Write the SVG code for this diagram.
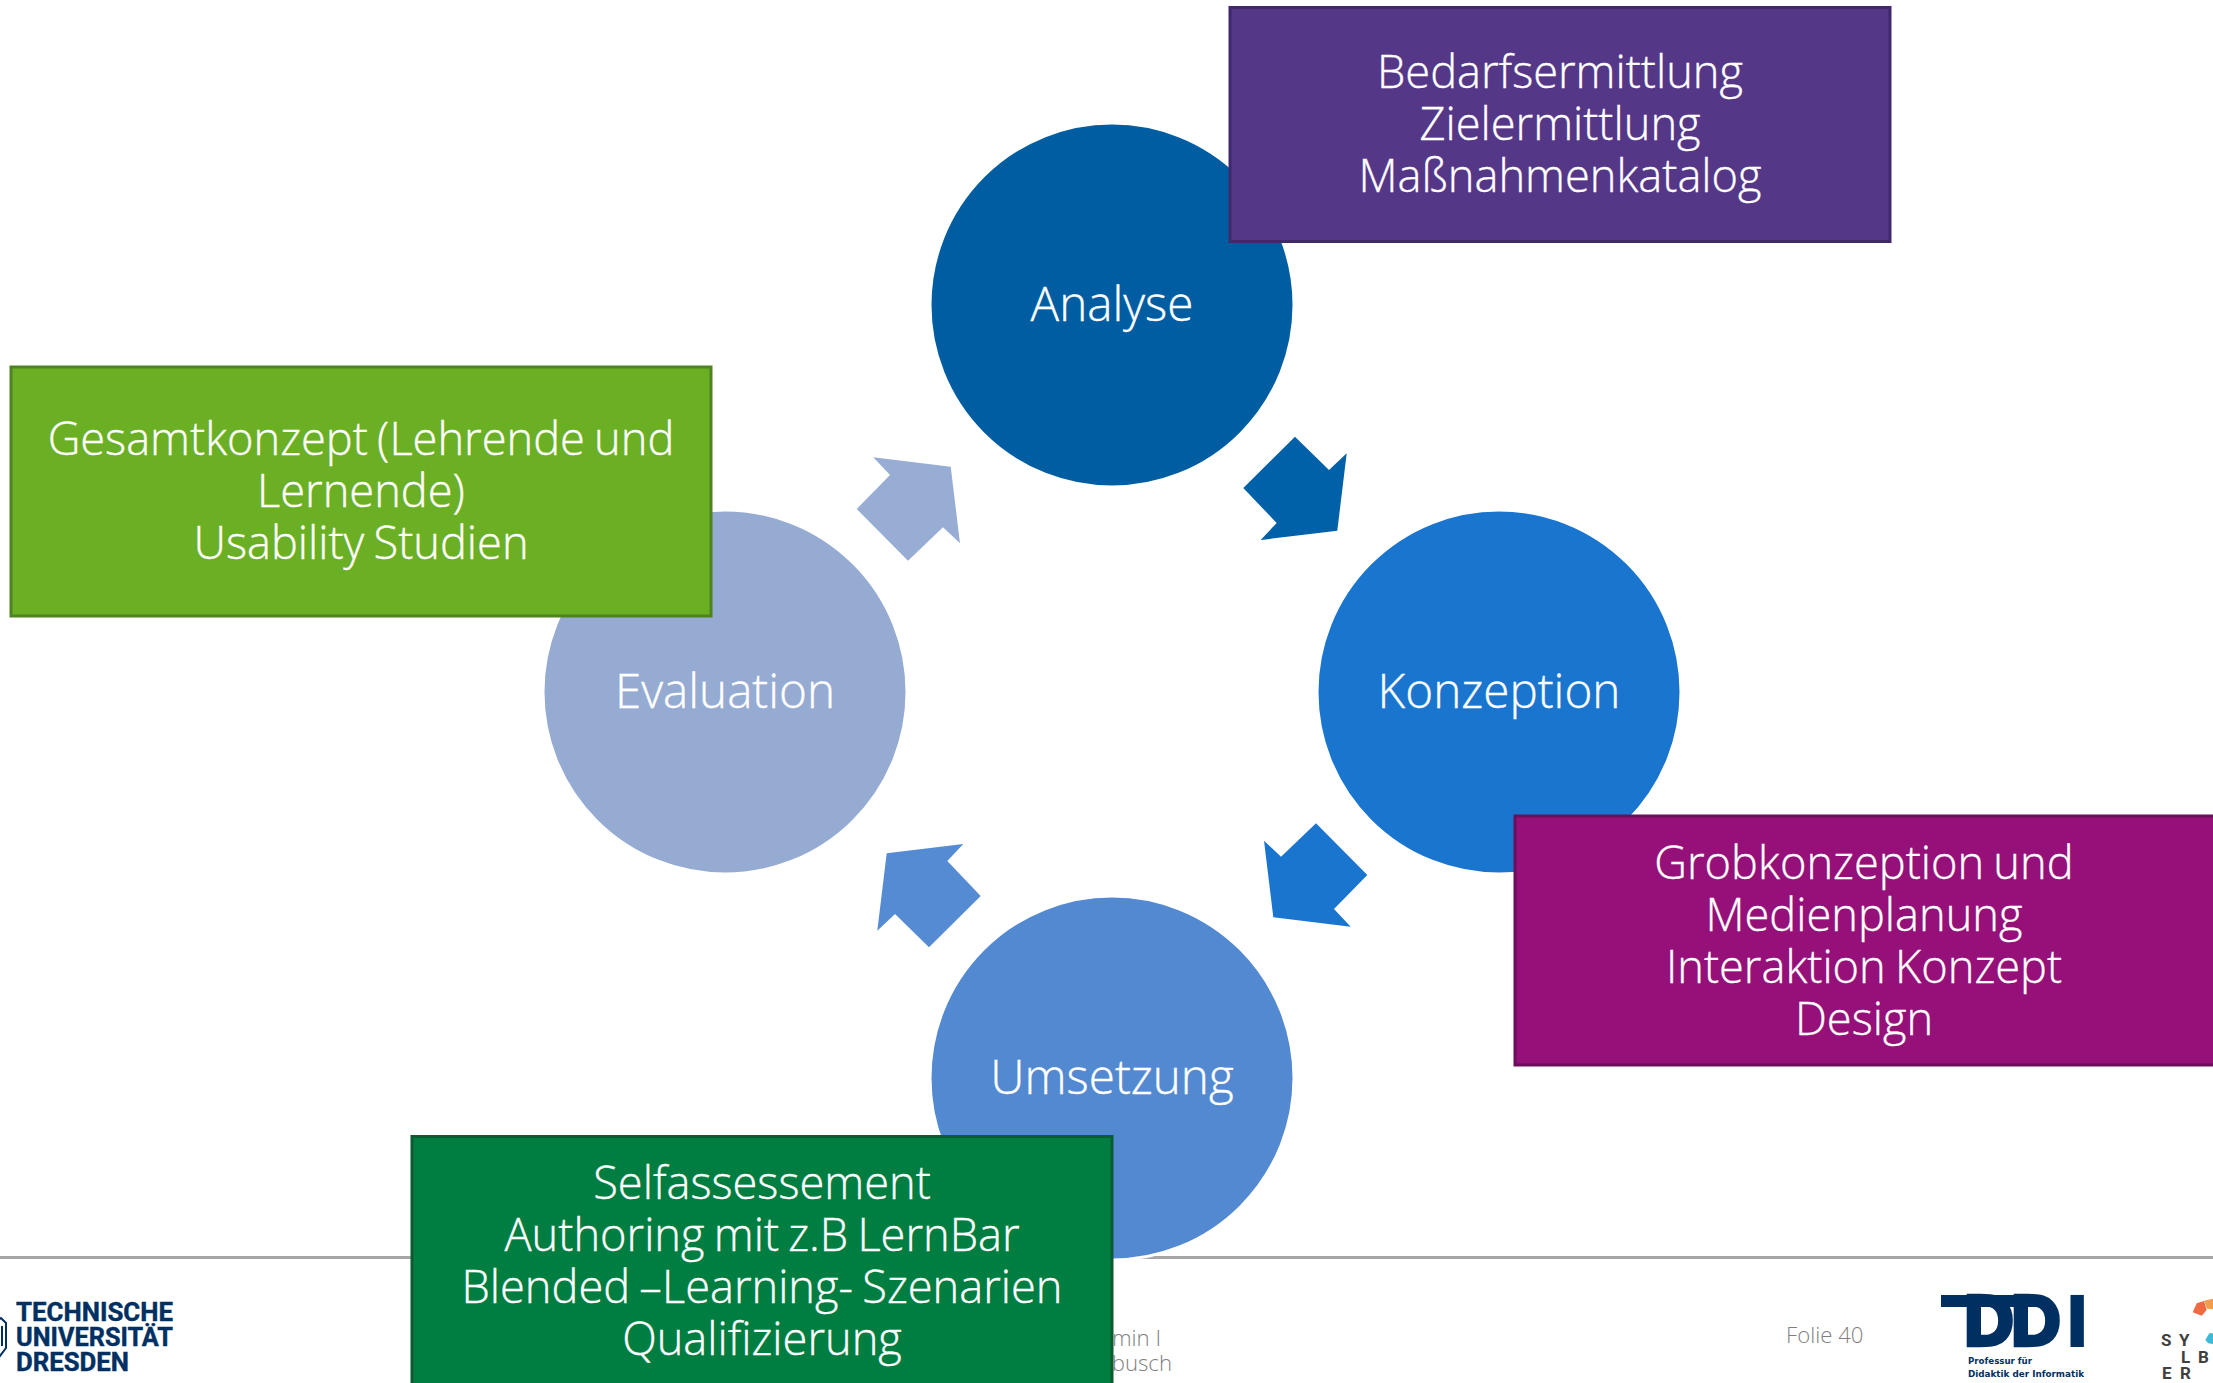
<svg xmlns="http://www.w3.org/2000/svg" width="2213" height="1383" viewBox="0 0 2213 1383">
<style>
text{font-family:"Open Sans","Noto Sans",sans-serif}
.c{stroke:#fff;stroke-width:3}
.l{fill:#fff;stroke:#fff;stroke-width:.35;font-size:45.2px;font-weight:300;text-anchor:middle;word-spacing:-2.5px}
.n{fill:#fff;stroke:#fff;stroke-width:.35;font-size:47.6px;font-weight:300;text-anchor:middle}
.b{stroke-width:3}
.f{fill:#7f7f7f;font-size:22.2px;font-weight:300}
.e{text-anchor:end}
.tu{fill:#002f61;stroke:#002f61;stroke-width:.4;font-family:"Roboto","Liberation Sans",sans-serif;font-weight:700;font-size:25px}
.sy{fill:#3f3f3f;font-family:"Roboto","Liberation Sans",sans-serif;font-weight:700;font-size:17px}
.dd{fill:#002f61;font-family:"DejaVu Sans",sans-serif;font-weight:700}
.ds{stroke:#002f61;stroke-width:2.5}
</style>
<defs><polygon id="arrow" points="183,-255.3 217,-222 234.7,-238.7 225.3,-161.3 148.7,-152 164.7,-169 131.3,-204"/></defs>
<rect width="2213" height="1383" fill="#fff"/>
<rect id="footer-line" x="0" y="1256" width="2213" height="3" fill="#a6a6a6"/>
<g id="footer">
<text class="f e" x="1161" y="1346">min I</text>
<text class="f e" x="1172" y="1371">busch</text>
<text class="f" x="1786" y="1343">Folie 40</text>
</g>
<g id="logo-tud">
<path d="M-4 1322 L1 1318 L6 1323 V1348 L0 1356 L-4 1352 M2 1326 V1346" fill="none" stroke="#002f61" stroke-width="2"/>
<text class="tu" x="16" y="1320.500" textLength="157" lengthAdjust="spacingAndGlyphs">TECHNISCHE</text>
<text class="tu" x="16" y="1345.500" textLength="157" lengthAdjust="spacingAndGlyphs">UNIVERSITÄT</text>
<text class="tu" x="16" y="1370.500" textLength="113" lengthAdjust="spacingAndGlyphs">DRESDEN</text>
</g>
<g id="logo-ddi">
<rect x="1941" y="1295" width="95" height="12" fill="#002f61"/>
<text class="dd ds" x="1962" y="1346" font-size="70" textLength="53" lengthAdjust="spacingAndGlyphs">D</text>
<text class="dd ds" x="2009" y="1346" font-size="70" textLength="53" lengthAdjust="spacingAndGlyphs">D</text>
<text class="dd" x="2064" y="1347" font-size="71">I</text>
<text class="dd" x="1968" y="1364" font-size="8.5" textLength="64" lengthAdjust="spacingAndGlyphs">Professur für</text>
<text class="dd" x="1968" y="1377" font-size="8.5" textLength="116" lengthAdjust="spacingAndGlyphs">Didaktik der Informatik</text>
</g>
<g id="logo-sylber">
<polygon points="2192.7,1312.3 2196.7,1303.3 2204,1301 2206.7,1310 2201.7,1315.7" fill="#ee6a42"/>
<polygon points="2204,1300.7 2213,1298.7 2213,1309.3 2207,1308.7" fill="#f39b4e"/>
<polygon points="2205.3,1340 2209.3,1333.3 2213,1333.3 2213,1344 2208.3,1343.3" fill="#3cb9d6"/>
<text class="sy" x="2161" y="1346">S</text><text class="sy" x="2179" y="1346">Y</text>
<text class="sy" x="2181" y="1363">L</text><text class="sy" x="2198" y="1363">B</text>
<text class="sy" x="2162" y="1379">E</text><text class="sy" x="2180" y="1379">R</text>
</g>
<g id="connectors">
<use href="#arrow" transform="translate(1112 692)" fill="#0060a8"/>
<use href="#arrow" transform="translate(1112 692) rotate(90)" fill="#1a75cf"/>
<use href="#arrow" transform="translate(1112 692) rotate(180)" fill="#558bd3"/>
<use href="#arrow" transform="translate(1112 692) rotate(270)" fill="#98add4"/>
</g>
<g id="analyse"><circle class="c" cx="1112" cy="305" r="182" fill="#005da2"/><text class="n" x="1112" y="321">Analyse</text></g>
<g id="konzeption"><circle class="c" cx="1499" cy="692" r="182" fill="#1a75cf"/><text class="n" x="1499" y="708">Konzeption</text></g>
<g id="umsetzung"><circle class="c" cx="1112" cy="1078" r="182" fill="#5389d1"/><text class="n" x="1112" y="1094">Umsetzung</text></g>
<g id="evaluation"><circle class="c" cx="725" cy="692" r="182" fill="#96abd2"/><text class="n" x="725" y="708">Evaluation</text></g>
<g id="box-analyse"><rect class="b" x="1230" y="7.500" width="660" height="234" fill="#553788" stroke="#40296a"/>
<text class="l" x="1560" y="87.500">Bedarfsermittlung</text><text class="l" x="1560" y="139.500">Zielermittlung</text><text class="l" x="1560" y="191.500">Maßnahmenkatalog</text></g>
<g id="box-evaluation"><rect class="b" x="11" y="367" width="700" height="249" fill="#6bb024" stroke="#4f8220"/>
<text class="l" x="361" y="454.500">Gesamtkonzept (Lehrende und</text><text class="l" x="361" y="506.500">Lernende)</text><text class="l" x="361" y="558.500">Usability Studien</text></g>
<g id="box-konzeption"><rect class="b" x="1515" y="816" width="700" height="249" fill="#951078" stroke="#6b0f5a"/>
<text class="l" x="1864" y="878.500">Grobkonzeption und</text><text class="l" x="1864" y="930.500">Medienplanung</text><text class="l" x="1864" y="982.500">Interaktion Konzept</text><text class="l" x="1864" y="1034.500">Design</text></g>
<g id="box-umsetzung"><rect class="b" x="412" y="1136.500" width="700" height="249" fill="#007d40" stroke="#0a5c33"/>
<text class="l" x="762" y="1199">Selfassessement</text><text class="l" x="762" y="1251">Authoring mit z.B LernBar</text><text class="l" x="762" y="1303">Blended –Learning- Szenarien</text><text class="l" x="762" y="1355">Qualifizierung</text></g>
</svg>
